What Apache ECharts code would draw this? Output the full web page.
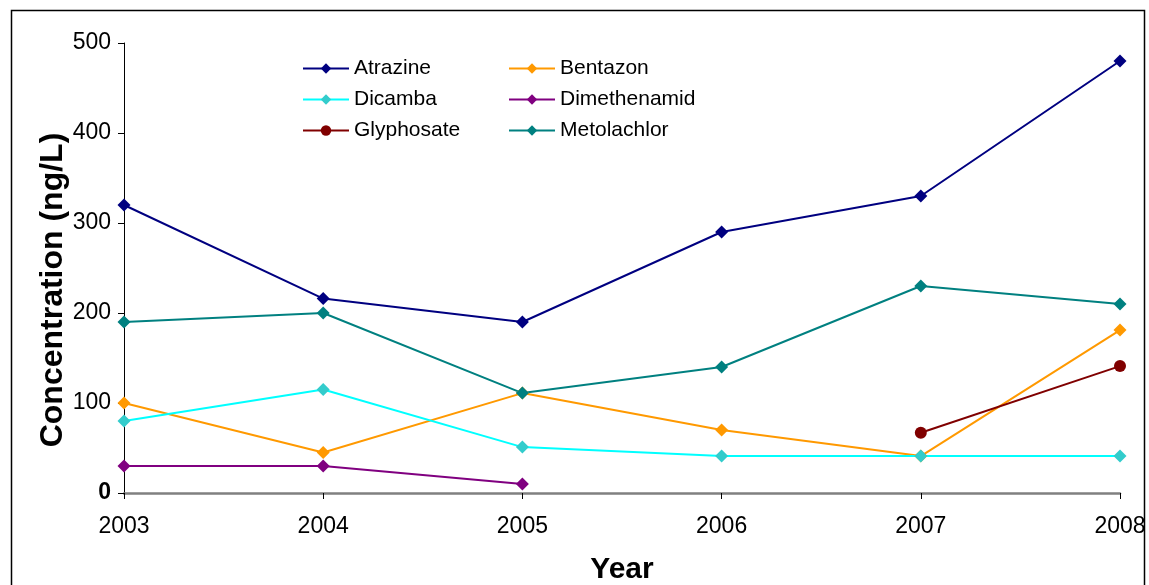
<!DOCTYPE html>
<html>
<head>
<meta charset="utf-8">
<script src="https://cdn.jsdelivr.net/npm/echarts@6/dist/echarts.min.js"></script>
<style>
  html, body { margin: 0; padding: 0; background: #fff; }
  #chart { width: 1149px; height: 585px; }
</style>
</head>
<body>
<div id="chart"></div>
<script>
// Years on the horizontal axis
const years = ['2003', '2004', '2005', '2006', '2007', '2008'];

// Herbicide concentrations (ng/L); '-' marks years without a value
const atrazine     = [320, 216, 190, 290, 330, 480];
const bentazon     = [100, 45, 111, 70, 41, 181];
const dicamba      = [80, 115, 51, 41, 41, 41];
const dimethenamid = [30, 30, 10, '-', '-', '-'];
const glyphosate   = ['-', '-', '-', '-', 67, 141];
const metolachlor  = [190, 200, 111, 140, 230, 210];

// Value axis ticks
const yTicks = [0, 100, 200, 300, 400, 500];

const FONT = 'Liberation Sans, Arial, sans-serif';

function lineSeries(name, data, lineColor, markerColor, symbol, size) {
  return {
    name: name,
    type: 'line',
    data: data,
    symbol: symbol,
    symbolSize: size,
    showSymbol: true,
    connectNulls: false,
    lineStyle: { color: lineColor, width: 2 },
    itemStyle: { color: markerColor },
    emphasis: { disabled: true },
    z: 3
  };
}

const chart = echarts.init(document.getElementById('chart'), null, { renderer: 'canvas' });

const legendCommon = {
  orient: 'vertical',
  itemWidth: 46,
  itemHeight: 13,
  itemGap: 10,
  textStyle: { fontFamily: FONT, fontSize: 21, color: '#000' },
  selectedMode: false
};

chart.setOption({
  animation: false,
  backgroundColor: '#fff',
  grid: { left: 124, right: 29, top: 43, bottom: 92, containLabel: false, outerBoundsMode: 'none' },
  legend: [
    Object.assign({}, legendCommon, { left: 297, top: 53, data: ['Atrazine', 'Dicamba', 'Glyphosate'] }),
    Object.assign({}, legendCommon, { left: 503, top: 53, data: ['Bentazon', 'Dimethenamid', 'Metolachlor'] })
  ],
  xAxis: {
    type: 'category',
    data: years,
    boundaryGap: false,
    name: 'Year',
    nameLocation: 'middle',
    nameGap: 62,
    nameTextStyle: { fontFamily: FONT, fontSize: 30, fontWeight: 'bold', color: '#000' },
    axisLine: { lineStyle: { color: '#808080', width: 2.5 } },
    axisTick: { show: true, alignWithLabel: true, length: 6, inside: false, lineStyle: { color: '#000', width: 1 } },
    axisLabel: { fontFamily: FONT, fontSize: 23, color: '#000', margin: 22, showMinLabel: true, showMaxLabel: true },
    splitLine: { show: false }
  },
  yAxis: {
    type: 'value',
    min: yTicks[0],
    max: yTicks[yTicks.length - 1],
    interval: 100,
    axisLine: { show: true, lineStyle: { color: '#000', width: 1 } },
    axisTick: { show: true, length: 6, lineStyle: { color: '#000', width: 1 } },
    axisLabel: {
      fontFamily: FONT, fontSize: 23, color: '#000', margin: 13,
      formatter: function (v) { return v === 0 ? '{z|0}' : String(v); },
      rich: { z: { fontFamily: FONT, fontSize: 23, fontWeight: 'bold', color: '#000' } }
    },
    splitLine: { show: false }
  },
  series: [
    lineSeries('Atrazine', atrazine, '#000080', '#000080', 'diamond', 13),
    lineSeries('Bentazon', bentazon, '#FF9900', '#FF9900', 'diamond', 13),
    lineSeries('Dicamba', dicamba, '#00FFFF', '#33CCCC', 'diamond', 13),
    lineSeries('Dimethenamid', dimethenamid, '#800080', '#800080', 'diamond', 13),
    lineSeries('Glyphosate', glyphosate, '#800000', '#800000', 'circle', 12),
    lineSeries('Metolachlor', metolachlor, '#008080', '#008080', 'diamond', 13)
  ],
  graphic: [
    {
      type: 'rect',
      shape: { x: 11.5, y: 10.5, width: 1133, height: 600 },
      style: { fill: 'none', stroke: '#000', lineWidth: 1.5 },
      silent: true,
      z: 0
    },
    {
      type: 'text',
      x: 53,
      y: 290,
      rotation: Math.PI / 2,
      style: {
        text: 'Concentration (ng/L)',
        fontFamily: FONT,
        fontSize: 32,
        fontWeight: 'bold',
        fill: '#000',
        align: 'center',
        verticalAlign: 'middle'
      },
      silent: true
    }
  ]
});
</script>
</body>
</html>
